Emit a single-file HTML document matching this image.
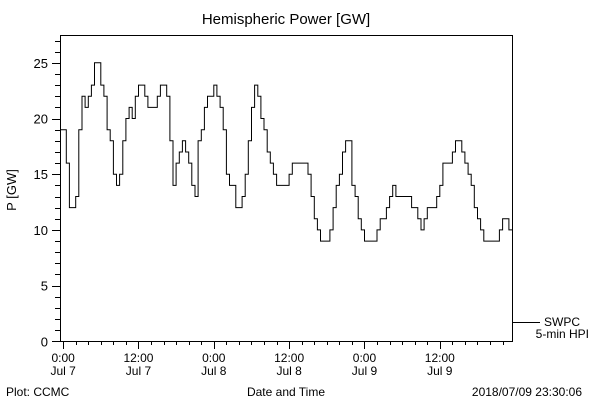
<!DOCTYPE html>
<html><head><meta charset="utf-8"><style>
body{margin:0;background:#fff}
svg{display:block}
text{font-family:"Liberation Sans",sans-serif;fill:#000}
</style></head><body>
<svg width="600" height="400" viewBox="0 0 600 400" id="chart">
<rect width="600" height="400" fill="#fff"/>
<text x="286" y="24" font-size="15" text-anchor="middle">Hemispheric Power [GW]</text>
<rect x="60.5" y="35.5" width="452" height="306" fill="none" stroke="#000" stroke-width="1"/>
<g id="yaxis"></g>
<g id="xaxis"></g>
<path id="series" fill="none" stroke="#000" stroke-width="1"/>
<text x="16" y="190" font-size="13" text-anchor="middle" transform="rotate(-90 16 190)">P [GW]</text>
<text x="286" y="396" font-size="12" text-anchor="middle">Date and Time</text>
<text x="6" y="396" font-size="12">Plot: CCMC</text>
<text x="582" y="396" font-size="12" text-anchor="end">2018/07/09 23:30:06</text>
<line x1="513" y1="322.5" x2="540" y2="322.5" stroke="#000"/>
<text x="580" y="326" font-size="12" text-anchor="end">SWPC</text>
<text x="589" y="338" font-size="12" text-anchor="end">5-min HPI</text>
</svg>
<script>
const startHour = -0.5;
const stepHours = 0.5;
const powerValues = [19,19,16,12,12,13,19,22,21,22,23,25,25,23,22,19,18,15,14,15,18,20,21,20,22,23,23,22,21,21,21,22,23,23,22,18,14,16,17,18,17,16,14,13,18,19,21,22,22,23,22,21,19,15,14,14,12,12,13,15,18,21,23,22,20,19,17,16,15,14,14,14,14,15,16,16,16,16,16,15,13,11,10,9,9,9,10,12,14,15,17,18,18,14,13,11,10,9,9,9,9,10,11,11,12,13,14,13,13,13,13,13,12,12,11,10,11,12,12,12,13,14,16,16,16,17,18,18,17,16,15,14,12,11,10,9,9,9,9,9,10,11,11,10];
const yTicks = [0,5,10,15,20,25];
const xTickHours = [0,12,24,36,48,60];
const xTickTimes = ["0:00","12:00","0:00","12:00","0:00","12:00"];
const xTickDates = ["Jul 7","Jul 7","Jul 8","Jul 8","Jul 9","Jul 9"];
const xMin=-0.5,xMax=71.5,yMin=0,yMax=27.5;
const L=60,R=512,T=35,B=341.3;
const sx=h=>L+(h-xMin)/(xMax-xMin)*(R-L);
const sy=v=>B-(v-yMin)/(yMax-yMin)*(B-T);
const NS="http://www.w3.org/2000/svg";
function mk(tag,attrs,parent){const e=document.createElementNS(NS,tag);for(const k in attrs)e.setAttribute(k,attrs[k]);parent.appendChild(e);return e;}
const ya=document.getElementById('yaxis'), xa=document.getElementById('xaxis');
for(let v=0;v<=27;v++){
  const major=v%5===0;const y=Math.round(sy(v))+0.5;
  const t=mk('line',{x1:major?52:55,x2:60,y1:y,y2:y,stroke:'#000'},ya);
  
  
}
yTicks.forEach(v=>{
  const t=mk('text',{x:48,y:sy(v)+5,'font-size':13,'text-anchor':'end'},ya);
  t.textContent=v;
  
  
});
for(let h=0;h<=70;h+=2){
  const major=h%12===0;const x=Math.round(sx(h))+0.5;
  const t=mk('line',{x1:x,x2:x,y1:341,y2:major?349:345,stroke:'#000'},xa);
  
  
}
xTickHours.forEach((h,i)=>{
  const a=mk('text',{x:sx(h),y:362,'font-size':12,'text-anchor':'middle'},xa);
  a.textContent=xTickTimes[i];
  
  
  const b=mk('text',{x:sx(h),y:375,'font-size':12,'text-anchor':'middle'},xa);
  b.textContent=xTickDates[i];
  
  
});
let d='';
powerValues.forEach((v,i)=>{
  const h0=startHour+i*stepHours, h1=Math.min(h0+stepHours,xMax);
  const y=sy(v);
  d+=(i===0?'M':'L')+sx(h0).toFixed(1)+','+y.toFixed(1)+'L'+sx(h1).toFixed(1)+','+y.toFixed(1);
});
document.getElementById('series').setAttribute('d',d);
</script>
</body></html>
